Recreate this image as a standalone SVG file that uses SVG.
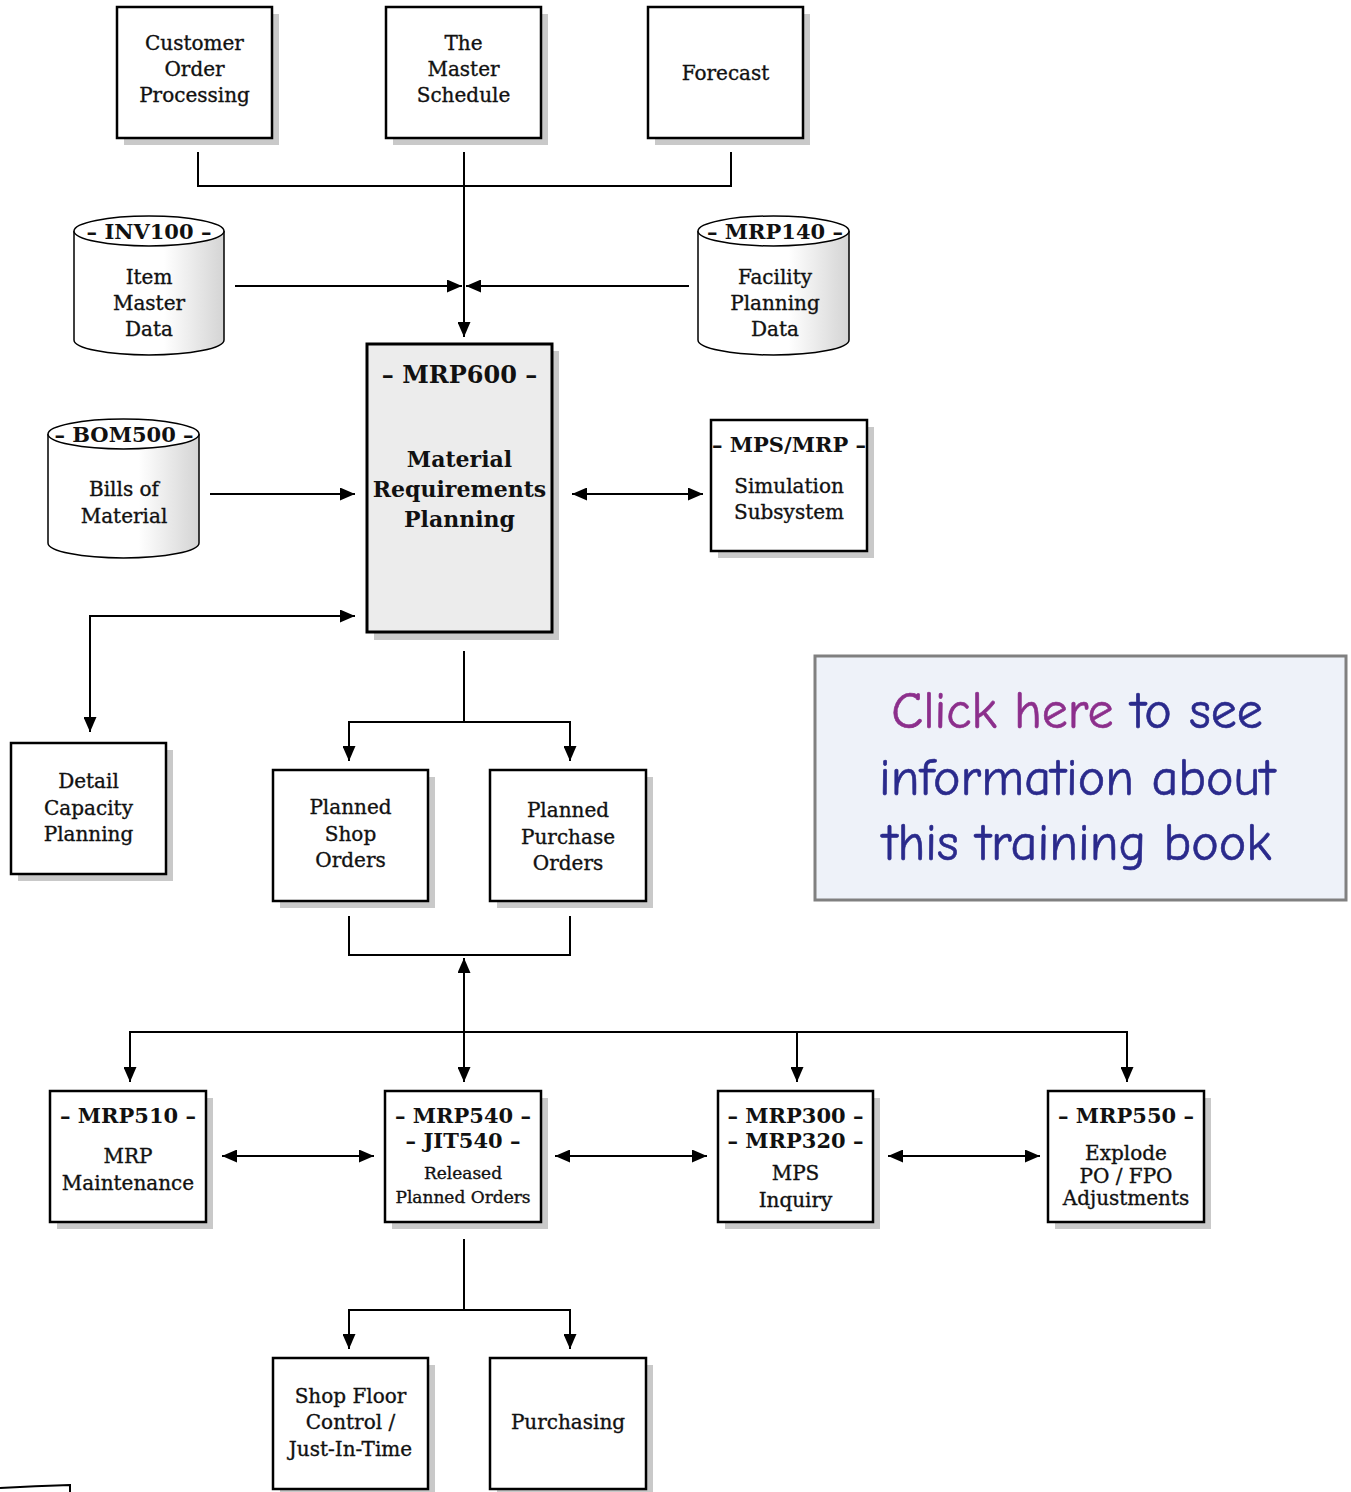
<svg xmlns="http://www.w3.org/2000/svg" width="1351" height="1492" viewBox="0 0 1351 1492">
<defs>
<marker id="ah" viewBox="0 0 15 13" refX="15" refY="6.5" markerWidth="15" markerHeight="13" markerUnits="userSpaceOnUse" orient="auto-start-reverse">
<path d="M0,0 L15,6.5 L0,13 z" fill="#000"/>
</marker>
<linearGradient id="cyl" x1="0" y1="0" x2="1" y2="0">
<stop offset="0" stop-color="#ffffff"/>
<stop offset="0.6" stop-color="#ffffff"/>
<stop offset="1" stop-color="#d4d4d4"/>
</linearGradient>
<style>
.sh{fill:#c9c9c9}
.bx{fill:#fff;stroke:#000;stroke-width:2.5}
.t{font-family:"DejaVu Serif","Liberation Serif",serif;font-size:20px;text-anchor:middle;fill:#111;stroke:#111;stroke-width:0.35}
.s{font-size:17px}
.b{font-family:"DejaVu Serif","Liberation Serif",serif;font-weight:bold;font-size:21px;text-anchor:middle;fill:#111}
.c{fill:none;stroke:#000;stroke-width:2}
.cy{fill:url(#cyl);stroke:#000;stroke-width:1.5}
.cl{font-family:"Comic Neue","DejaVu Sans","Noto Sans",sans-serif;font-size:52px;text-anchor:middle;fill:#2a2a8c;stroke:#2a2a8c;stroke-width:0.6}
</style>
</defs>
<rect width="1351" height="1492" fill="#fff"/>

<g id="connectors">
<path class="c" d="M198,152 V186 H731 V152"/>
<path class="c" d="M464,152 V337" marker-end="url(#ah)"/>
<path class="c" d="M235,286 H462" marker-end="url(#ah)"/>
<path class="c" d="M689,286 H466" marker-end="url(#ah)"/>
<path class="c" d="M210,494 H355" marker-end="url(#ah)"/>
<path class="c" d="M572,494 H703" marker-start="url(#ah)" marker-end="url(#ah)"/>
<path class="c" d="M355,616 H90 V732" marker-start="url(#ah)" marker-end="url(#ah)"/>
<path class="c" d="M464,651 V722"/>
<path class="c" d="M349,761 V722 H570 V761" marker-start="url(#ah)" marker-end="url(#ah)"/>
<path class="c" d="M349,916 V955 H570 V916"/>
<path class="c" d="M464,958 V1082" marker-start="url(#ah)" marker-end="url(#ah)"/>
<path class="c" d="M130,1082 V1032 H1127 V1082" marker-start="url(#ah)" marker-end="url(#ah)"/>
<path class="c" d="M797,1032 V1082" marker-end="url(#ah)"/>
<path class="c" d="M222,1156 H374" marker-start="url(#ah)" marker-end="url(#ah)"/>
<path class="c" d="M555,1156 H707" marker-start="url(#ah)" marker-end="url(#ah)"/>
<path class="c" d="M888,1156 H1040" marker-start="url(#ah)" marker-end="url(#ah)"/>
<path class="c" d="M464,1239 V1310"/>
<path class="c" d="M349,1349 V1310 H570 V1349" marker-start="url(#ah)" marker-end="url(#ah)"/>
<path class="c" d="M0,1488 Q35,1486 70,1485 V1492"/>
</g>

<g id="customer-order">
<rect class="sh" x="124" y="14" width="155" height="131"/>
<rect class="bx" x="117" y="7" width="155" height="131"/>
<text class="t" x="194.5" y="50">Customer</text>
<text class="t" x="194.5" y="76">Order</text>
<text class="t" x="194.5" y="102">Processing</text>
</g>
<g id="master-schedule">
<rect class="sh" x="393" y="14" width="155" height="131"/>
<rect class="bx" x="386" y="7" width="155" height="131"/>
<text class="t" x="463.5" y="50">The</text>
<text class="t" x="463.5" y="76">Master</text>
<text class="t" x="463.5" y="102">Schedule</text>
</g>
<g id="forecast">
<rect class="sh" x="655" y="14" width="155" height="131"/>
<rect class="bx" x="648" y="7" width="155" height="131"/>
<text class="t" x="725.5" y="80">Forecast</text>
</g>

<g id="inv100">
<path class="cy" d="M74,231 V340 A75,15 0 0 0 224,340 V231"/>
<ellipse cx="149" cy="231" rx="75" ry="15" fill="#fff" stroke="#000" stroke-width="1.5"/>
<text class="b" x="149" y="239">– INV100 –</text>
<text class="t" x="149" y="284">Item</text>
<text class="t" x="149" y="310">Master</text>
<text class="t" x="149" y="336">Data</text>
</g>
<g id="mrp140">
<path class="cy" d="M698,231 V340 A75.5,15 0 0 0 849,340 V231"/>
<ellipse cx="773.5" cy="231" rx="75.5" ry="15" fill="#fff" stroke="#000" stroke-width="1.5"/>
<text class="b" x="775" y="239">– MRP140 –</text>
<text class="t" x="775" y="284">Facility</text>
<text class="t" x="775" y="310">Planning</text>
<text class="t" x="775" y="336">Data</text>
</g>
<g id="bom500">
<path class="cy" d="M48,434 V543 A75.5,15 0 0 0 199,543 V434"/>
<ellipse cx="123.5" cy="434" rx="75.5" ry="15" fill="#fff" stroke="#000" stroke-width="1.5"/>
<text class="b" x="124" y="442">– BOM500 –</text>
<text class="t" x="124" y="496">Bills of</text>
<text class="t" x="124" y="523">Material</text>
</g>

<g id="mrp600">
<rect class="sh" x="374" y="351" width="185" height="289"/>
<rect x="367" y="344" width="185" height="288" fill="#ececec" stroke="#000" stroke-width="3"/>
<text class="b" x="459.5" y="383" style="font-size:24px">– MRP600 –</text>
<text class="b" x="459.5" y="467" style="font-size:22px">Material</text>
<text class="b" x="459.5" y="497" style="font-size:22px">Requirements</text>
<text class="b" x="459.5" y="527" style="font-size:22px">Planning</text>
</g>

<g id="mps-mrp">
<rect class="sh" x="718" y="427" width="156" height="131"/>
<rect class="bx" x="711" y="420" width="156" height="131"/>
<text class="b" x="789" y="452">– MPS/MRP –</text>
<text class="t" x="789" y="493">Simulation</text>
<text class="t" x="789" y="519">Subsystem</text>
</g>

<g id="detail-capacity">
<rect class="sh" x="18" y="750" width="155" height="131"/>
<rect class="bx" x="11" y="743" width="155" height="131"/>
<text class="t" x="88.5" y="788">Detail</text>
<text class="t" x="88.5" y="815">Capacity</text>
<text class="t" x="88.5" y="841">Planning</text>
</g>

<g id="planned-shop">
<rect class="sh" x="280" y="777" width="155" height="131"/>
<rect class="bx" x="273" y="770" width="155" height="131"/>
<text class="t" x="350.5" y="814">Planned</text>
<text class="t" x="350.5" y="841">Shop</text>
<text class="t" x="350.5" y="867">Orders</text>
</g>
<g id="planned-purchase">
<rect class="sh" x="497" y="777" width="156" height="131"/>
<rect class="bx" x="490" y="770" width="156" height="131"/>
<text class="t" x="568" y="817">Planned</text>
<text class="t" x="568" y="844">Purchase</text>
<text class="t" x="568" y="870">Orders</text>
</g>

<g id="info-box">
<rect x="815" y="656" width="531" height="244" fill="#eef2f9" stroke="#808080" stroke-width="3"/>
<text class="cl" x="1077" y="728"><tspan fill="#8c2f8c" stroke="#8c2f8c">Click here</tspan> to see</text>
<text class="cl" x="1077" y="795">information about</text>
<text class="cl" x="1077" y="860">this training book</text>
</g>

<g id="mrp510">
<rect class="sh" x="57" y="1098" width="156" height="131"/>
<rect class="bx" x="50" y="1091" width="156" height="131"/>
<text class="b" x="128" y="1123">– MRP510 –</text>
<text class="t" x="128" y="1163">MRP</text>
<text class="t" x="128" y="1190">Maintenance</text>
</g>
<g id="mrp540">
<rect class="sh" x="392" y="1098" width="156" height="131"/>
<rect class="bx" x="385" y="1091" width="156" height="131"/>
<text class="b" x="463" y="1123">– MRP540 –</text>
<text class="b" x="463" y="1148">– JIT540 –</text>
<text class="t s" x="463" y="1179">Released</text>
<text class="t s" x="463" y="1203">Planned Orders</text>
</g>
<g id="mrp300">
<rect class="sh" x="725" y="1098" width="155" height="131"/>
<rect class="bx" x="718" y="1091" width="155" height="131"/>
<text class="b" x="795.5" y="1123">– MRP300 –</text>
<text class="b" x="795.5" y="1148">– MRP320 –</text>
<text class="t" x="795.5" y="1180">MPS</text>
<text class="t" x="795.5" y="1207">Inquiry</text>
</g>
<g id="mrp550">
<rect class="sh" x="1055" y="1098" width="156" height="131"/>
<rect class="bx" x="1048" y="1091" width="156" height="131"/>
<text class="b" x="1126" y="1123">– MRP550 –</text>
<text class="t" x="1126" y="1160">Explode</text>
<text class="t" x="1126" y="1183">PO / FPO</text>
<text class="t" x="1126" y="1205">Adjustments</text>
</g>

<g id="shop-floor">
<rect class="sh" x="280" y="1365" width="155" height="131"/>
<rect class="bx" x="273" y="1358" width="155" height="131"/>
<text class="t" x="350.5" y="1403">Shop Floor</text>
<text class="t" x="350.5" y="1429">Control /</text>
<text class="t" x="350.5" y="1456">Just-In-Time</text>
</g>
<g id="purchasing">
<rect class="sh" x="497" y="1365" width="156" height="131"/>
<rect class="bx" x="490" y="1358" width="156" height="131"/>
<text class="t" x="568" y="1429">Purchasing</text>
</g>
</svg>
